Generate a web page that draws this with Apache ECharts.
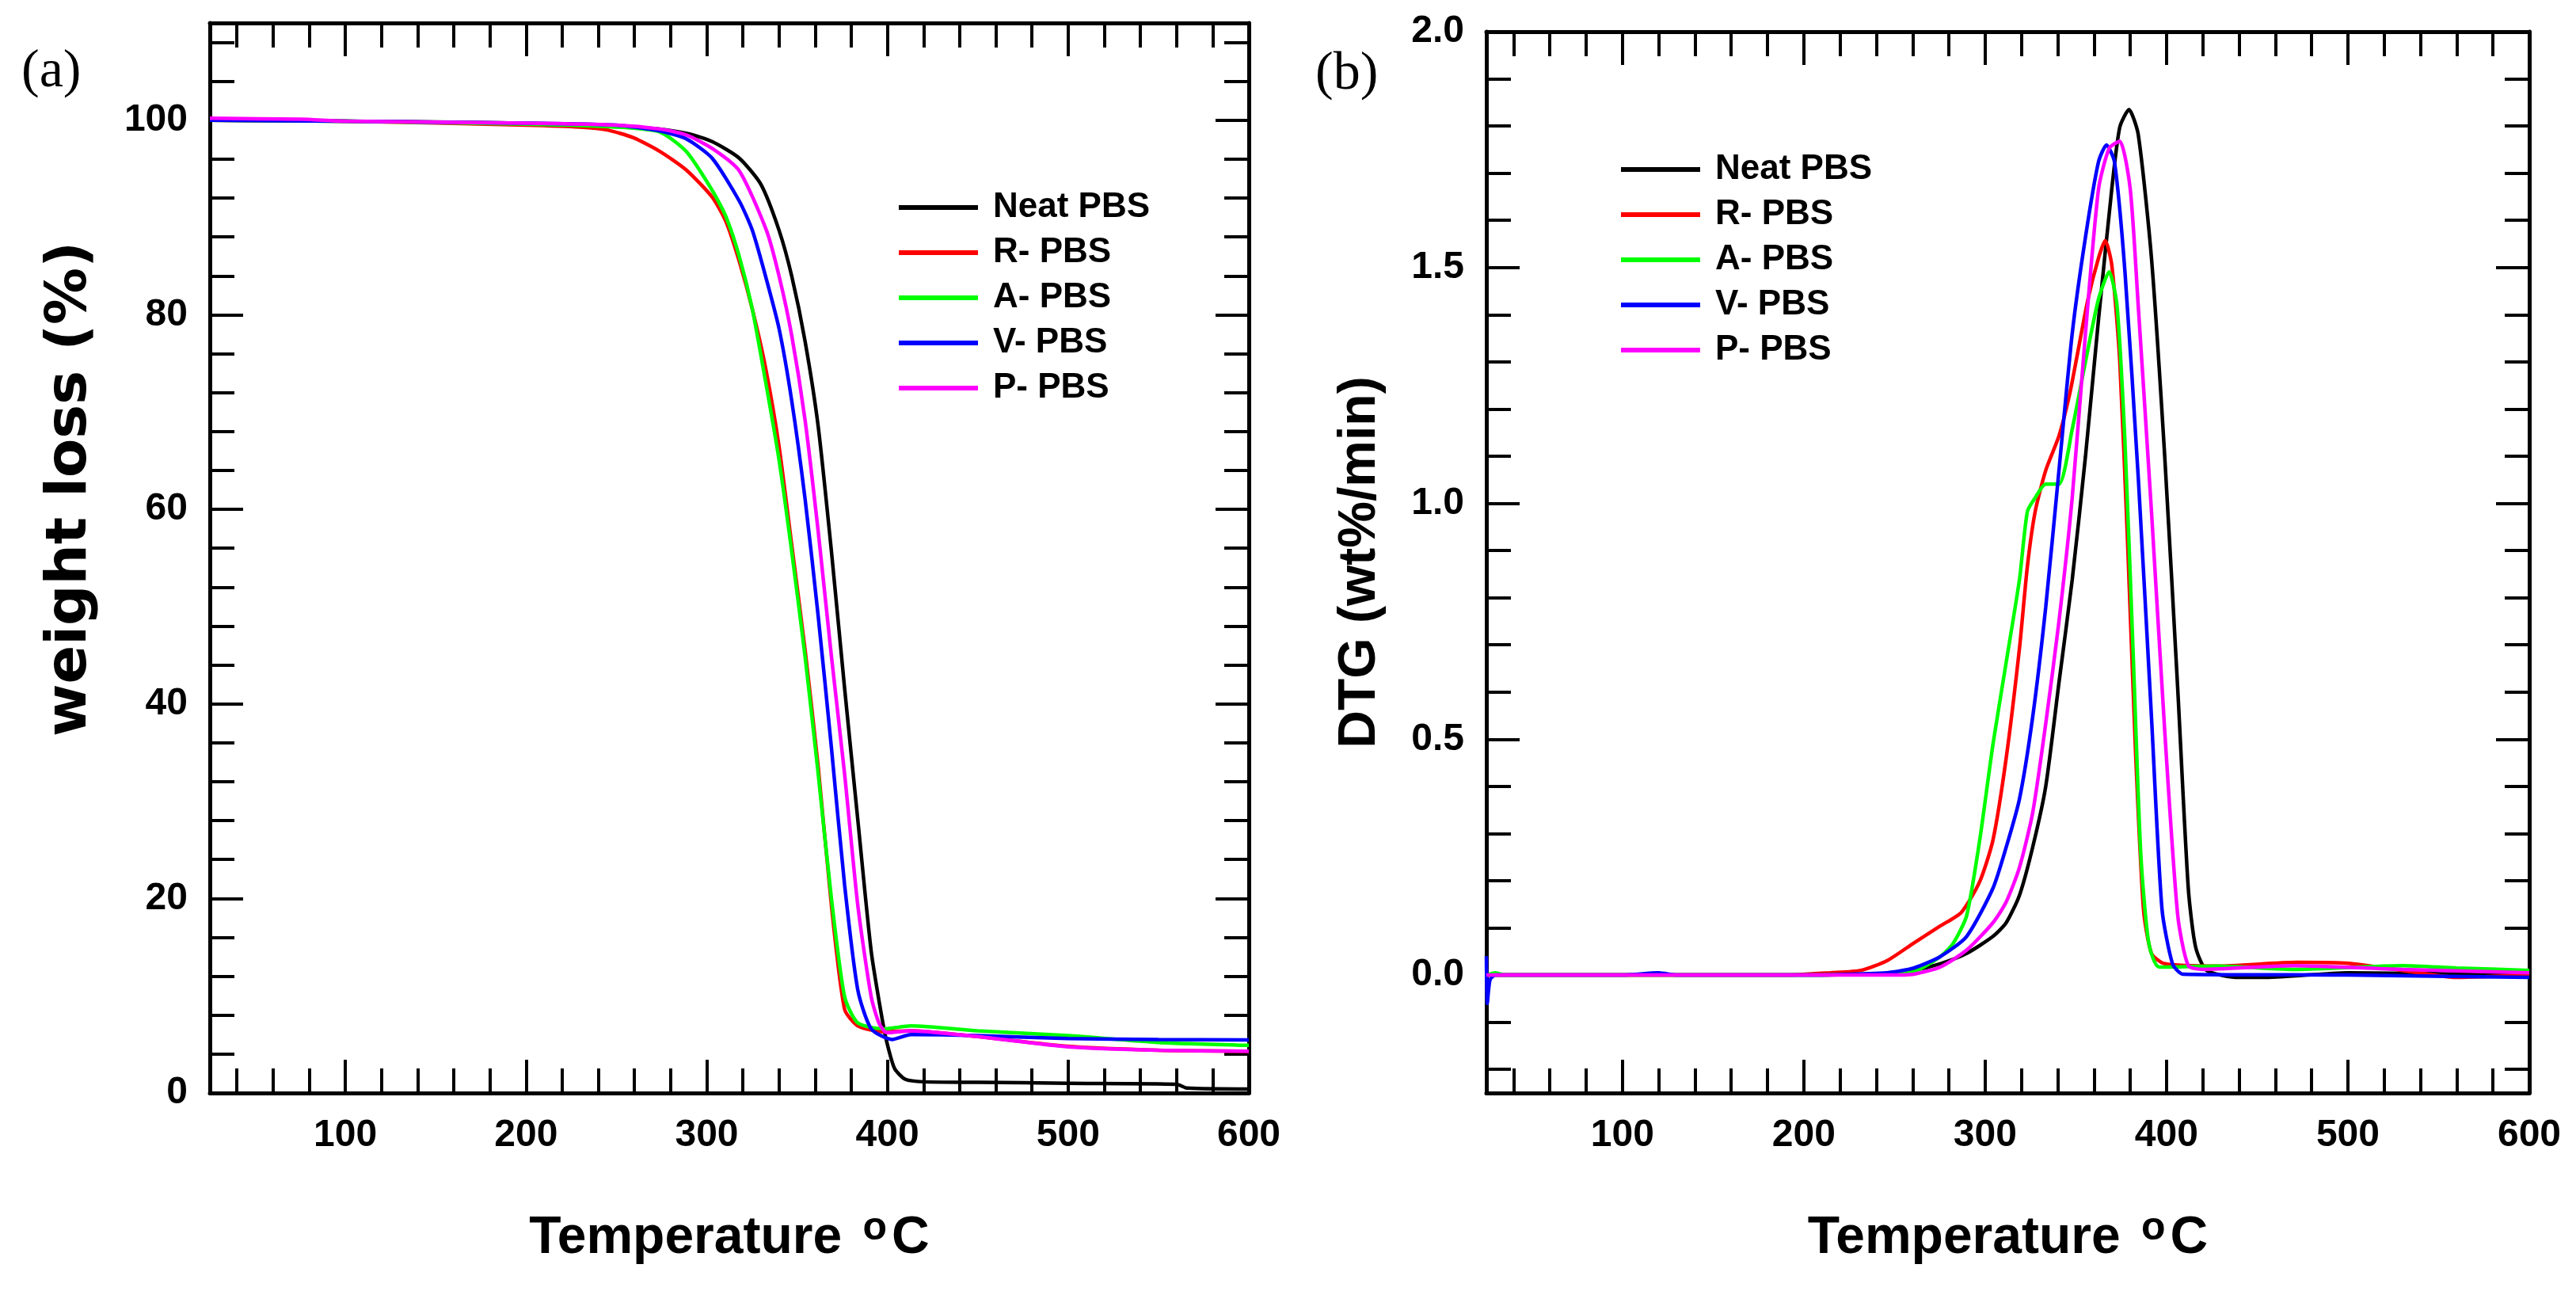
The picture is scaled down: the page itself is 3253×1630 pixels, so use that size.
<!DOCTYPE html>
<html>
<head>
<meta charset="utf-8">
<script src="https://cdn.jsdelivr.net/npm/echarts@6/dist/echarts.min.js"></script>
<style>
html,body{margin:0;padding:0;background:#fff;}
#chart{width:3253px;height:1630px;}
</style>
</head>
<body>
<div id="chart"></div>
<script>
// ---------- DATA ----------
const seriesNames = ['Neat PBS', 'R- PBS', 'A- PBS', 'V- PBS', 'P- PBS'];
const seriesColors = ['#000000', '#ff0000', '#00ff00', '#0000ff', '#ff00ff'];

// (a) TGA: [temperature °C, weight %]
const tgaNeat = [[25,100],[100,99.9],[200,99.7],[250,99.4],[274,99.1],[290,98.6],[303,97.8],[318,96.1],[330,93.4],[340,88.7],[347,84],[354.4,77.3],[361.7,68.5],[369,55.7],[376.3,41.6],[383.6,28.1],[391,14.6],[396.8,7.9],[399.7,5.2],[404,2.5],[410,1.4],[420,1.15],[450,1.1],[500,1.0],[560,0.9],[566,0.5],[600,0.4]];
const tgaR = [[25,100],[100,99.9],[200,99.5],[230,99.3],[245,99.0],[259.4,98.2],[274,96.8],[288.6,94.9],[303,92.1],[310.6,89.6],[318,85.5],[325.2,80.6],[332.5,74.6],[340,66.5],[347,56.4],[354.4,45.6],[361.7,33.5],[369,19.3],[376.3,8.6],[383.6,6.9],[398,6.3],[413,6.4],[450,5.8],[500,4.8],[550,4.4],[600,4.3]];
const tgaA = [[25,100],[100,99.9],[200,99.6],[250,99.3],[274,98.8],[288.6,96.8],[303,92.8],[310.6,90.1],[318,86],[325.2,80.6],[332.5,73.2],[340,65.1],[347,55.7],[354.4,44.9],[361.7,32.8],[369,20],[376.3,9.9],[383.6,7.2],[398,6.6],[413,6.9],[450,6.4],[500,5.9],[550,5.2],[600,4.9]];
const tgaV = [[25,100],[100,99.9],[200,99.7],[250,99.5],[274,98.9],[288.6,98.1],[303,96.1],[318,91.7],[325.2,88.7],[332.5,84],[340,78.6],[347,71.2],[354.4,61.1],[361.7,49],[369,35.5],[376.3,21.4],[383.6,10.6],[391,6.6],[402.6,5.5],[413,6.0],[450,5.9],[500,5.6],[550,5.5],[600,5.45]];
const tgaP = [[25,100.2],[75,100.1],[100,99.9],[200,99.7],[250,99.5],[274,99.1],[288.6,98.5],[303,97.1],[318,94.8],[333,88.7],[340,84],[347,77.9],[354.4,69.2],[361.7,57.7],[369,44.9],[376.3,32.8],[383.6,19.3],[391,9.9],[395.3,7.2],[399.7,6.2],[413,6.4],[450,5.8],[500,4.75],[550,4.4],[600,4.3]];

// (b) DTG: [temperature °C, wt%/min]
const dtgNeat = [[25,0],[100,0],[200,0],[246,0.003],[260.7,0.01],[275.2,0.024],[289.8,0.046],[304.3,0.082],[311.6,0.111],[318.9,0.169],[326.2,0.271],[333.4,0.40],[340.7,0.62],[348,0.838],[355.3,1.099],[362.5,1.39],[369.8,1.666],[374.2,1.797],[379.3,1.835],[384.4,1.782],[391.7,1.52],[399,1.10],[406.2,0.605],[412,0.184],[416,0.06],[422,0.01],[440,-0.005],[455,-0.005],[500,0.005],[600,0]];
const dtgR = [[25,0],[100,0],[190,0],[215,0.005],[231.6,0.01],[246.1,0.031],[260.7,0.068],[275.2,0.104],[286.9,0.133],[297,0.198],[304.3,0.286],[311.6,0.46],[318.9,0.692],[323.3,0.867],[327.6,0.983],[333.4,1.07],[340.7,1.143],[346.5,1.23],[350.9,1.317],[356.7,1.433],[362.5,1.52],[366.2,1.557],[369.8,1.506],[374.2,1.303],[378.6,0.91],[382.9,0.475],[387.3,0.14],[391.7,0.046],[399,0.024],[428,0.019],[472,0.027],[500,0.025],[530,0.01],[560,-0.005],[600,0]];
const dtgA = [[25,0],[30,0.005],[35,0],[100,0],[200,0],[246,0.003],[260.7,0.007],[275.2,0.039],[282.5,0.068],[289.8,0.126],[297,0.286],[304.3,0.489],[311.6,0.663],[318.9,0.838],[323.3,0.983],[327.6,1.012],[333.4,1.041],[340.7,1.041],[348,1.157],[355.3,1.30],[362.5,1.433],[368.4,1.491],[372.7,1.419],[377.1,1.128],[381.5,0.692],[385.8,0.257],[390.2,0.068],[396,0.017],[428,0.019],[472,0.012],[530,0.02],[560,0.015],[600,0.01]];
const dtgV = [[25,0.04],[25.5,-0.06],[27,-0.01],[30,0],[100,0],[120,0.005],[130,0],[200,0],[246,0.005],[260.7,0.015],[275.2,0.039],[289.8,0.082],[304.3,0.184],[311.6,0.271],[318.9,0.373],[326.2,0.547],[333.4,0.78],[340.7,1.07],[348,1.36],[355.3,1.564],[362.5,1.724],[366.9,1.76],[371.3,1.724],[377.1,1.49],[384.4,1.056],[391.7,0.547],[397.5,0.14],[403.3,0.024],[409,0.002],[500,0],[600,-0.005]];
const dtgP = [[25,0],[100,0],[200,0],[246,0],[260.7,0.002],[275.2,0.017],[289.8,0.053],[304.3,0.111],[311.6,0.155],[318.9,0.228],[326.2,0.344],[333.4,0.533],[340.7,0.75],[348,1.012],[355.3,1.36],[362.5,1.666],[368.4,1.753],[374.2,1.768],[380,1.666],[384.4,1.419],[391.7,0.983],[399,0.518],[406.2,0.126],[412,0.02],[420,0.012],[470,0.02],[530,0.012],[600,0.005]];

// ---------- TICKS ----------
const xMajorTicks = [100, 200, 300, 400, 500, 600];
const xMinorTicks = [40, 60, 80, 120, 140, 160, 180, 220, 240, 260, 280, 320, 340, 360, 380, 420, 440, 460, 480, 520, 540, 560, 580];
const yaMajorTicks = [0, 20, 40, 60, 80, 100];
const yaMinorTicks = [4, 8, 12, 16, 24, 28, 32, 36, 44, 48, 52, 56, 64, 68, 72, 76, 84, 88, 92, 96, 104, 108];
const ybMajorTicks = [0, 0.5, 1.0, 1.5, 2.0];
const ybMinorTicks = [-0.2, -0.1, 0.1, 0.2, 0.3, 0.4, 0.6, 0.7, 0.8, 0.9, 1.1, 1.2, 1.3, 1.4, 1.6, 1.7, 1.8, 1.9];

// ---------- STYLE ----------
const FONT = 'Liberation Sans, Arial, sans-serif';
const MAJOR = 42, MINOR = 31;
const tickStyle = {color: '#000', width: 4};

function xAxesFor(gi, name) {
  const base = {type: 'value', gridIndex: gi, min: 25, max: 600, splitLine: {show: false}};
  return [
    Object.assign({}, base, {
      position: 'bottom',
      axisLine: {show: true, onZero: false, lineStyle: {color: '#000', width: 5}},
      axisTick: {show: true, inside: true, length: MAJOR, customValues: xMajorTicks, lineStyle: tickStyle},
      axisLabel: {show: true, customValues: xMajorTicks, margin: 30, color: '#000', fontSize: 48, fontWeight: 'bold', fontFamily: FONT},
      name: name,
      nameLocation: 'middle',
      nameGap: 146,
      nameTextStyle: {color: '#000', fontSize: 66, fontWeight: 'bold', fontFamily: FONT,
        rich: {s: {fontSize: 50, fontWeight: 'bold', fontFamily: FONT, color: '#000', verticalAlign: 'top', padding: [0, 6, 26, 8]}}}
    }),
    Object.assign({}, base, {
      position: 'bottom',
      axisLine: {show: false, onZero: false},
      axisTick: {show: true, inside: true, length: MINOR, customValues: xMinorTicks, lineStyle: tickStyle},
      axisLabel: {show: false}
    }),
    Object.assign({}, base, {
      position: 'top',
      axisLine: {show: true, onZero: false, lineStyle: {color: '#000', width: 5}},
      axisTick: {show: true, inside: true, length: MAJOR, customValues: xMajorTicks, lineStyle: tickStyle},
      axisLabel: {show: false}
    }),
    Object.assign({}, base, {
      position: 'top',
      axisLine: {show: false, onZero: false},
      axisTick: {show: true, inside: true, length: MINOR, customValues: xMinorTicks, lineStyle: tickStyle},
      axisLabel: {show: false}
    })
  ];
}

function yAxesFor(gi, min, max, major, minor, fmt, name, nameGap, nameStyle) {
  const base = {type: 'value', gridIndex: gi, min: min, max: max, splitLine: {show: false}};
  return [
    Object.assign({}, base, {
      position: 'left',
      axisLine: {show: true, onZero: false, lineStyle: {color: '#000', width: 5}},
      axisTick: {show: true, inside: true, length: MAJOR, customValues: major, lineStyle: tickStyle},
      axisLabel: {show: true, customValues: major, margin: 28, color: '#000', fontSize: 48, fontWeight: 'bold', fontFamily: FONT, formatter: fmt},
      name: name,
      nameLocation: 'middle',
      nameGap: nameGap,
      nameTextStyle: nameStyle
    }),
    Object.assign({}, base, {
      position: 'left',
      axisLine: {show: false, onZero: false},
      axisTick: {show: true, inside: true, length: MINOR, customValues: minor, lineStyle: tickStyle},
      axisLabel: {show: false}
    }),
    Object.assign({}, base, {
      position: 'right',
      axisLine: {show: true, onZero: false, lineStyle: {color: '#000', width: 5}},
      axisTick: {show: true, inside: true, length: MAJOR, customValues: major, lineStyle: tickStyle},
      axisLabel: {show: false}
    }),
    Object.assign({}, base, {
      position: 'right',
      axisLine: {show: false, onZero: false},
      axisTick: {show: true, inside: true, length: MINOR, customValues: minor, lineStyle: tickStyle},
      axisLabel: {show: false}
    })
  ];
}

const tgaData = [tgaNeat, tgaR, tgaA, tgaV, tgaP];
const dtgData = [dtgNeat, dtgR, dtgA, dtgV, dtgP];

const series = [];
[tgaData, dtgData].forEach(function (set, gi) {
  set.forEach(function (d, i) {
    series.push({
      type: 'line',
      name: seriesNames[i],
      xAxisIndex: gi * 4,
      yAxisIndex: gi * 4,
      data: d,
      symbol: 'none',
      smooth: 0.22,
      color: seriesColors[i],
      lineStyle: {width: 4.5, color: seriesColors[i]},
      z: 3
    });
  });
});

const legendBase = {
  orient: 'vertical',
  data: seriesNames,
  icon: 'rect',
  itemWidth: 100,
  itemHeight: 6,
  itemGap: 7,
  selectedMode: false,
  textStyle: {color: '#000', fontSize: 44, fontWeight: 'bold', fontFamily: FONT, lineHeight: 50, padding: [0, 0, 0, 14]}
};

const option = {
  animation: false,
  backgroundColor: '#fff',
  title: [
    {text: '(a)', left: 22, top: 52, textStyle: {fontFamily: 'Liberation Serif, Times New Roman, serif', fontSize: 68, fontWeight: 'normal', color: '#000'}},
    {text: '(b)', left: 1656, top: 55, textStyle: {fontFamily: 'Liberation Serif, Times New Roman, serif', fontSize: 68, fontWeight: 'normal', color: '#000'}}
  ],
  legend: [
    Object.assign({}, legendBase, {left: 1130, top: 232}),
    Object.assign({}, legendBase, {left: 2042, top: 184})
  ],
  grid: [
    {left: 265, top: 29, width: 1312, height: 1351},
    {left: 1877, top: 40, width: 1317, height: 1340}
  ],
  xAxis: xAxesFor(0, 'Temperature {s|o}C').concat(xAxesFor(1, 'Temperature {s|o}C')),
  yAxis: yAxesFor(0, 0, 110, yaMajorTicks, yaMinorTicks, function (v) { return String(Math.round(v)); }, 'weight loss (%)', 140,
           {color: '#000', fontSize: 72, fontWeight: 'bold', fontFamily: 'DejaVu Sans, sans-serif', padding: [0, 0, 0, 174]})
    .concat(yAxesFor(1, -0.25, 2.0, ybMajorTicks, ybMinorTicks, function (v) { return v.toFixed(1); }, 'DTG (wt%/min)', 126,
           {color: '#000', fontSize: 66, fontWeight: 'bold', fontFamily: FONT})),
  series: series
};

const chart = echarts.init(document.getElementById('chart'), null, {renderer: 'canvas'});
chart.setOption(option);
</script>
</body>
</html>
